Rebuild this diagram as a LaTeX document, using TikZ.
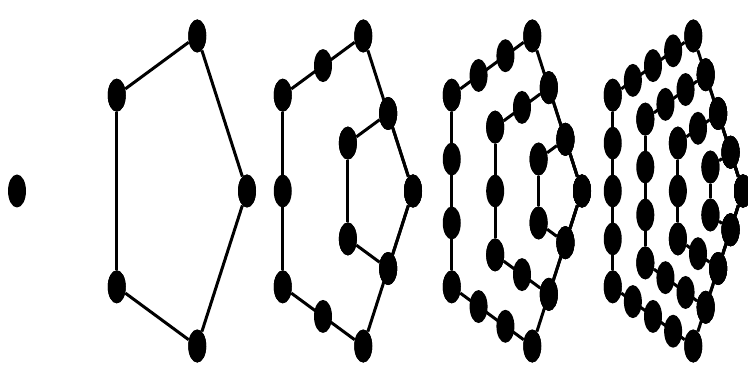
\documentclass[tikz,border=0pt]{standalone}
\usepackage{tikz}
\usetikzlibrary{shapes.geometric}

\tikzset{
  dot/.style={ellipse, fill=black, draw=none, inner sep=0pt, minimum width=18pt, minimum height=33pt},
  edge line/.style={line width=3pt, black}
}

\begin{document}
\begin{tikzpicture}[x=1pt, y=1pt]
\useasboundingbox (0,0) rectangle (748,367);

% single dot
\node[dot] (f1) at (17,176) {};

% nested pentagons sharing the right vertex
\foreach \n/\ax in {2/247, 3/413, 4/582, 5/743} {
  \pgfmathtruncatemacro{\m}{\n-1}
  \foreach \k in {1,...,\m} {
    \foreach \j in {0,...,4} {
      \foreach \t in {0,...,\k} {
        \pgfmathsetmacro{\u}{\t/\k}
        \pgfmathsetmacro{\px}{\ax + \k/\m*72*((1-\u)*(cos(72*\j)-1) + \u*(cos(72*(\j+1))-1))}
        \pgfmathsetmacro{\py}{176 + \k/\m*163*((1-\u)*sin(72*\j) + \u*sin(72*(\j+1)))}
        \node[dot] (f\n-\k-\j-\t) at (\px,\py) {};
      }
    }
  }
}

% sides
\foreach \n in {2,...,5} {
  \pgfmathtruncatemacro{\m}{\n-1}
  \foreach \k in {1,...,\m} {
    \foreach \j in {0,...,4} {
      \pgfmathtruncatemacro{\jj}{mod(\j+1,5)}
      \draw[edge line] (f\n-\k-\j-0) -- (f\n-\k-\jj-0);
    }
  }
}
\end{tikzpicture}
\end{document}
